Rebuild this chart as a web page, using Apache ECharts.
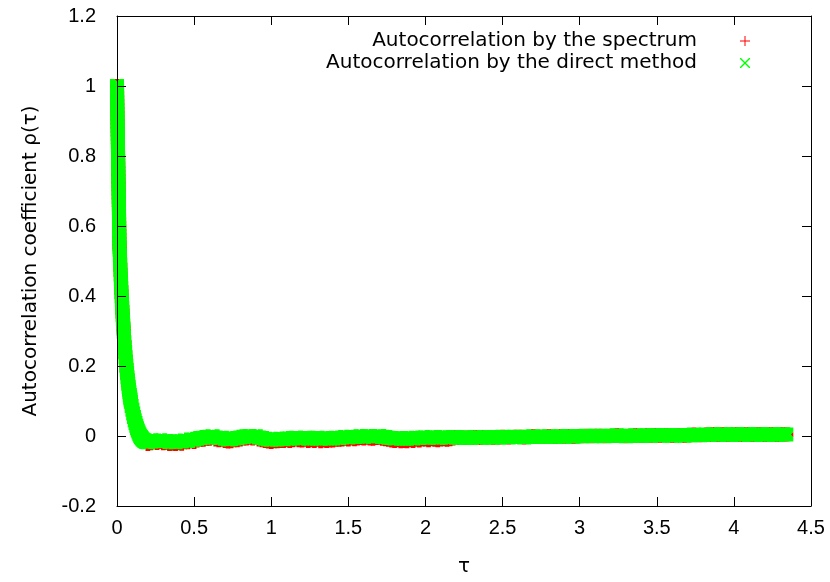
<!DOCTYPE html>
<html>
<head>
<meta charset="utf-8">
<script src="https://cdn.jsdelivr.net/npm/echarts@6/dist/echarts.min.js"></script>
<style>
  html, body { margin: 0; padding: 0; background: #fff; }
  #chart { width: 830px; height: 582px; }
</style>
</head>
<body>
<div id="chart"></div>
<script>
// Autocorrelation coefficient rho(tau): spectrum-based estimate vs. direct estimate.

const seriesNames = ['Autocorrelation by the spectrum', 'Autocorrelation by the direct method'];
const xTicks = { min: 0, max: 4.5, step: 0.5 };
const yTicks = { min: -0.2, max: 1.2, step: 0.2 };

// Short lags (tau < 0.2): both estimates coincide here.
const headTau = [
  0, 0.0004, 0.0008, 0.0012, 0.0016, 0.002, 0.0024, 0.0028, 0.0032, 0.0036,
  0.004, 0.0044, 0.0048, 0.0052, 0.0056, 0.006, 0.0064, 0.0068, 0.0072, 0.0076,
  0.008, 0.0084, 0.0088, 0.0092, 0.0096, 0.01, 0.0104, 0.0108, 0.0112, 0.0116,
  0.012, 0.0124, 0.0128, 0.0132, 0.0136, 0.014, 0.0144, 0.0148, 0.0152, 0.0156, 0.016,
  0.0167,
  0.0173, 0.0186, 0.0199, 0.0212, 0.0225, 0.0238, 0.0251, 0.0264, 0.0277, 0.029,
  0.0303, 0.0316, 0.0329, 0.0342, 0.0355, 0.0368, 0.0381, 0.0394, 0.0407, 0.042, 0.0433,
  0.0455, 0.048, 0.0505, 0.053, 0.0555, 0.058, 0.0605, 0.063, 0.0655, 0.068,
  0.0705, 0.073, 0.0755, 0.078, 0.0805, 0.083, 0.0855, 0.088,
  0.09, 0.095, 0.1, 0.105, 0.11, 0.115, 0.12, 0.125, 0.13, 0.135, 0.14,
  0.145, 0.15, 0.155, 0.16, 0.165, 0.17, 0.175, 0.18, 0.185, 0.19, 0.195
];
const headRho = [
  1.000, 0.989, 0.976, 0.966, 0.953, 0.943, 0.931, 0.921, 0.908, 0.898,
  0.886, 0.876, 0.863, 0.853, 0.841, 0.831, 0.818, 0.809, 0.796, 0.786,
  0.773, 0.764, 0.751, 0.741, 0.728, 0.719, 0.706, 0.696, 0.683, 0.674,
  0.661, 0.651, 0.638, 0.629, 0.616, 0.606, 0.593, 0.584, 0.571, 0.561, 0.549,
  0.541,
  0.533, 0.518, 0.503, 0.489, 0.475, 0.461, 0.448, 0.435, 0.423, 0.411,
  0.399, 0.388, 0.377, 0.366, 0.355, 0.345, 0.335, 0.325, 0.316, 0.307, 0.298,
  0.283, 0.268, 0.253, 0.239, 0.225, 0.213, 0.201, 0.189, 0.179, 0.168,
  0.159, 0.149, 0.141, 0.132, 0.125, 0.117, 0.110, 0.104,
  0.098, 0.086, 0.075, 0.064, 0.054, 0.045, 0.037, 0.029, 0.022, 0.016, 0.010,
  0.005, 0.001, -0.003, -0.006, -0.009, -0.011, -0.013, -0.014, -0.016, -0.017, -0.017
];

// Longer lags, sampled every 0.02 from tau = 0.2 up to 4.34.
const tailStart = 0.2;
const tailStep = 0.02;

const spectrumTail = [
  -0.023, -0.021, -0.018, -0.020, -0.017, -0.021, -0.019, -0.023, -0.022, -0.023,
  -0.021, -0.022, -0.018, -0.018, -0.015, -0.017, -0.013, -0.011, -0.011, -0.008,
  -0.008, -0.006, -0.010, -0.012, -0.011, -0.014, -0.016, -0.015, -0.012, -0.012,
  -0.010, -0.007, -0.007, -0.005, -0.007, -0.006, -0.010, -0.012, -0.014, -0.016,
  -0.017, -0.015, -0.015, -0.014, -0.014, -0.012, -0.014, -0.012, -0.010, -0.012,
  -0.013, -0.011, -0.014, -0.012, -0.014, -0.011, -0.015, -0.013, -0.014, -0.013,
  -0.013, -0.011, -0.011, -0.010, -0.008, -0.010, -0.007, -0.009, -0.007, -0.006,
  -0.007, -0.005, -0.007, -0.008, -0.006, -0.005, -0.008, -0.009, -0.011, -0.013,
  -0.014, -0.012, -0.015, -0.014, -0.015, -0.012, -0.014, -0.011, -0.013, -0.010,
  -0.010, -0.012, -0.009, -0.011, -0.012, -0.010, -0.009, -0.011, -0.009, -0.007,
  -0.003, -0.005, -0.004, -0.006, -0.004, -0.005, -0.003, -0.004, -0.005, -0.003,
  -0.004, -0.003, -0.005, -0.003, -0.004, -0.002, -0.003, -0.004, -0.003, -0.002,
  -0.003, -0.002, -0.004, -0.003, -0.002, -0.001, -0.003, -0.002, -0.003, -0.002,
  -0.001, -0.002, -0.003, -0.002, -0.001, -0.002, 0.000, -0.001, -0.002, -0.001,
  0.000, -0.001, 0.001, 0.000, -0.001, 0.001, 0.000, 0.001, -0.001, 0.000,
  0.001, 0.000, 0.002, 0.001, 0.000, -0.001, 0.001, 0.000, 0.002, 0.001,
  0.000, 0.001, 0.002, 0.001, 0.003, 0.002, 0.001, 0.002, 0.003, 0.002,
  0.001, 0.002, 0.003, 0.002, 0.001, 0.003, 0.002, 0.004, 0.003, 0.002,
  0.003, 0.004, 0.003, 0.005, 0.004, 0.003, 0.005, 0.004, 0.003, 0.004,
  0.004, 0.005, 0.003, 0.004, 0.005, 0.004, 0.003, 0.004, 0.005, 0.004,
  0.003, 0.004, 0.005, 0.004, 0.003, 0.004, 0.005, 0.004
];

const directTail = [
  -0.018, -0.016, -0.013, -0.014, -0.012, -0.015, -0.014, -0.017, -0.016, -0.018,
  -0.015, -0.016, -0.013, -0.014, -0.010, -0.011, -0.008, -0.006, -0.005, -0.003,
  -0.002, -0.001, -0.004, -0.006, -0.005, -0.008, -0.010, -0.009, -0.007, -0.006,
  -0.004, -0.002, -0.001, 0.000, -0.002, -0.001, -0.004, -0.006, -0.008, -0.010,
  -0.011, -0.009, -0.010, -0.008, -0.009, -0.007, -0.008, -0.006, -0.005, -0.006,
  -0.007, -0.005, -0.008, -0.006, -0.007, -0.005, -0.008, -0.006, -0.007, -0.007,
  -0.007, -0.005, -0.006, -0.004, -0.003, -0.004, -0.002, -0.003, -0.002, -0.001,
  -0.002, 0.000, -0.001, -0.002, -0.001, 0.000, -0.002, -0.003, -0.005, -0.006,
  -0.007, -0.006, -0.008, -0.007, -0.008, -0.006, -0.007, -0.005, -0.006, -0.004,
  -0.004, -0.005, -0.003, -0.004, -0.005, -0.004, -0.003, -0.005, -0.004, -0.003,
  -0.003, -0.005, -0.004, -0.006, -0.004, -0.005, -0.003, -0.004, -0.005, -0.003,
  -0.004, -0.003, -0.005, -0.003, -0.004, -0.002, -0.003, -0.004, -0.003, -0.002,
  -0.003, -0.002, -0.004, -0.003, -0.002, -0.001, -0.003, -0.002, -0.003, -0.002,
  -0.001, -0.002, -0.003, -0.002, -0.001, -0.002, 0.000, -0.001, -0.002, -0.001,
  0.000, -0.001, 0.001, 0.000, -0.001, 0.001, 0.000, 0.001, -0.001, 0.000,
  0.001, 0.000, 0.002, 0.001, 0.000, -0.001, 0.001, 0.000, 0.002, 0.001,
  0.000, 0.001, 0.002, 0.001, 0.003, 0.002, 0.001, 0.002, 0.003, 0.002,
  0.001, 0.002, 0.003, 0.002, 0.001, 0.003, 0.002, 0.004, 0.003, 0.002,
  0.003, 0.004, 0.003, 0.005, 0.004, 0.003, 0.005, 0.004, 0.003, 0.004,
  0.004, 0.005, 0.003, 0.004, 0.005, 0.004, 0.003, 0.004, 0.005, 0.004,
  0.003, 0.004, 0.005, 0.004, 0.003, 0.004, 0.005, 0.004
];

// ---- assemble [tau, rho] pairs ----
function tailPairs(values) {
  return values.map((v, i) => [+(tailStart + i * tailStep).toFixed(3), v]);
}
const headPairs = headTau.map((t, i) => [t, headRho[i]]);
const spectrumData = headPairs.concat(tailPairs(spectrumTail));
const directData = headPairs.concat(tailPairs(directTail));

// ---- point glyphs: solid marks for the data, thin ones for the key ----
const plusMark = 'path://M4,0L8,0L8,4L12,4L12,8L8,8L8,12L4,12L4,8L0,8L0,4L4,4Z';
const crossMark = 'path://M0,0L4,0L6,2L8,0L12,0L12,4L10,6L12,8L12,12L8,12L6,10L4,12L0,12L0,8L2,6L0,4Z';
const plusKey = 'path://M4.5,0L5.5,0L5.5,4.5L10,4.5L10,5.5L5.5,5.5L5.5,10L4.5,10L4.5,5.5L0,5.5L0,4.5L4.5,4.5Z';
const crossKey = 'path://M0,0L1,0L5,4L9,0L10,0L10,1L6,5L10,9L10,10L9,10L5,6L1,10L0,10L0,9L4,5L0,1Z';

const TICK_TXT = { fontFamily: 'Liberation Sans', fontSize: 20, color: '#000' };
const KEY_TXT = { fontFamily: 'DejaVu Sans', fontSize: 20, color: '#000' };
const TITLE_TXT = { fontFamily: 'DejaVu Sans', fontSize: 20, color: '#000' };

function fmt(v) {
  const r = Math.round(v * 10) / 10;
  return r === 0 ? '0' : String(r);
}

function axisBase(range, extra) {
  return Object.assign({
    type: 'value',
    min: range.min,
    max: range.max,
    interval: range.step,
    z: 5,
    axisLine: { show: true, onZero: false, lineStyle: { color: '#000', width: 1 } },
    axisTick: { show: true, inside: true, length: 9, lineStyle: { color: '#000', width: 1 } },
    splitLine: { show: false }
  }, extra);
}

const chart = echarts.init(document.getElementById('chart'), null, { renderer: 'canvas' });

chart.setOption({
  animation: false,
  backgroundColor: '#fff',
  grid: { left: 117, right: 19, top: 16, bottom: 75, containLabel: false },
  legend: {
    orient: 'vertical',
    right: 75,
    top: 26,
    align: 'right',
    itemWidth: 86,
    itemHeight: 10,
    itemGap: 2,
    selectedMode: false,
    textStyle: KEY_TXT,
    data: [
      { name: seriesNames[0], icon: plusKey },
      { name: seriesNames[1], icon: crossKey }
    ]
  },
  xAxis: [
    axisBase(xTicks, {
      position: 'bottom',
      name: 'τ',
      nameLocation: 'middle',
      nameGap: 51,
      nameTextStyle: TITLE_TXT,
      axisLabel: Object.assign({ margin: 12, formatter: fmt }, TICK_TXT)
    }),
    axisBase(xTicks, { position: 'top', axisLabel: { show: false } })
  ],
  yAxis: [
    axisBase(yTicks, {
      position: 'left',
      name: 'Autocorrelation coefficient ρ(τ)',
      nameLocation: 'middle',
      nameGap: 76,
      nameTextStyle: TITLE_TXT,
      axisLabel: Object.assign({ margin: 21, formatter: fmt }, TICK_TXT)
    }),
    axisBase(yTicks, { position: 'right', axisLabel: { show: false } })
  ],
  series: [
    {
      name: seriesNames[0],
      type: 'scatter',
      data: spectrumData,
      symbol: plusMark,
      symbolSize: 14,
      itemStyle: { color: '#ff0000', opacity: 1 },
      clip: false,
      silent: true,
      z: 2
    },
    {
      name: seriesNames[1],
      type: 'scatter',
      data: directData,
      symbol: crossMark,
      symbolSize: 14,
      itemStyle: { color: '#00ff00', opacity: 1 },
      clip: false,
      silent: true,
      z: 3
    }
  ]
});
</script>
</body>
</html>
